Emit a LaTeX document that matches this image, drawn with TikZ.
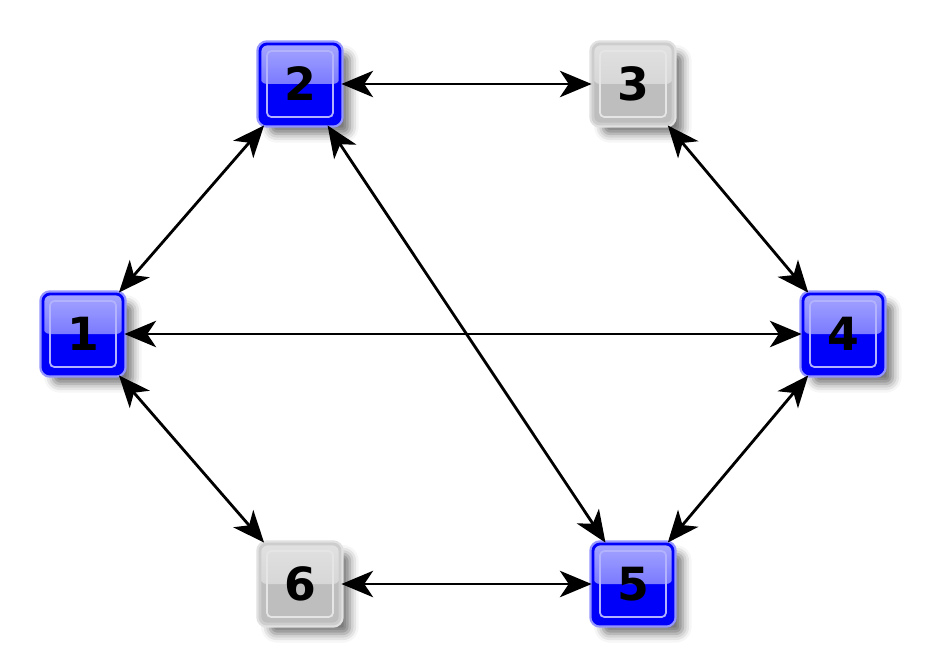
\documentclass[tikz,border=0pt]{standalone}
\usepackage{fontspec}
\setmainfont{DejaVu Sans}
\usetikzlibrary{arrows.meta,shadows.blur}
\definecolor{boxblue}{RGB}{0,0,250}
\definecolor{rimblue}{RGB}{150,150,255}
\definecolor{topblue}{RGB}{165,165,255}
\definecolor{midblue}{RGB}{80,80,255}
\definecolor{boxgray}{RGB}{190,190,190}
\definecolor{rimgray}{RGB}{205,205,205}
\definecolor{topgray}{RGB}{225,225,225}
\definecolor{midgray}{RGB}{205,205,205}
\begin{document}
\begin{tikzpicture}[x=0.01cm, y=-0.01cm,
  every node/.style={font=\fontsize{13}{15}\selectfont\bfseries},
  box/.style={rectangle, minimum size=0.8cm, inner sep=0pt, rounded corners=2pt,
    line width=0.8pt,
    blur shadow={shadow xshift=2.8pt, shadow yshift=-2.8pt, shadow blur radius=2.5pt, shadow opacity=55}},
  bluebox/.style={box, fill=boxblue, draw=boxblue,
    preaction={draw=rimblue, line width=2.1pt},
    path picture={
      \shade[top color=topblue, bottom color=midblue]
        (path picture bounding box.north west) rectangle (path picture bounding box.east);
      \draw[white!70!boxblue, line width=0.5pt, rounded corners=1.2pt]
        ([shift={(2pt,2pt)}]path picture bounding box.south west) rectangle
        ([shift={(-2pt,-2pt)}]path picture bounding box.north east);}},
  graybox/.style={box, fill=boxgray, draw=rimgray,
    preaction={draw=rimgray!60, line width=2.1pt},
    path picture={
      \shade[top color=topgray, bottom color=midgray]
        (path picture bounding box.north west) rectangle (path picture bounding box.east);
      \draw[white!60!boxgray, line width=0.5pt, rounded corners=1.2pt]
        ([shift={(2pt,2pt)}]path picture bounding box.south west) rectangle
        ([shift={(-2pt,-2pt)}]path picture bounding box.north east);}},
  link/.style={line width=0.8pt, {Stealth[length=9pt, width=7.5pt, inset=2.5pt]}-{Stealth[length=9pt, width=7.5pt, inset=2.5pt]}}]
\useasboundingbox (0,0) rectangle (928,667);

% nodes
\node[bluebox] (n1) at (83,334) {1};
\node[bluebox] (n2) at (300,84) {2};
\node[graybox] (n3) at (633,84) {3};
\node[bluebox] (n4) at (843,334) {4};
\node[bluebox] (n5) at (633,584) {5};
\node[graybox] (n6) at (300,584) {6};

% links
\draw[link] (n2) -- (n3);
\draw[link] (n3) -- (n4);
\draw[link] (n1) -- (n2);
\draw[link] (n1) -- (n4);
\draw[link] (n2) -- (n5);
\draw[link] (n4) -- (n5);
\draw[link] (n1) -- (n6);
\draw[link] (n6) -- (n5);
\end{tikzpicture}
\end{document}
